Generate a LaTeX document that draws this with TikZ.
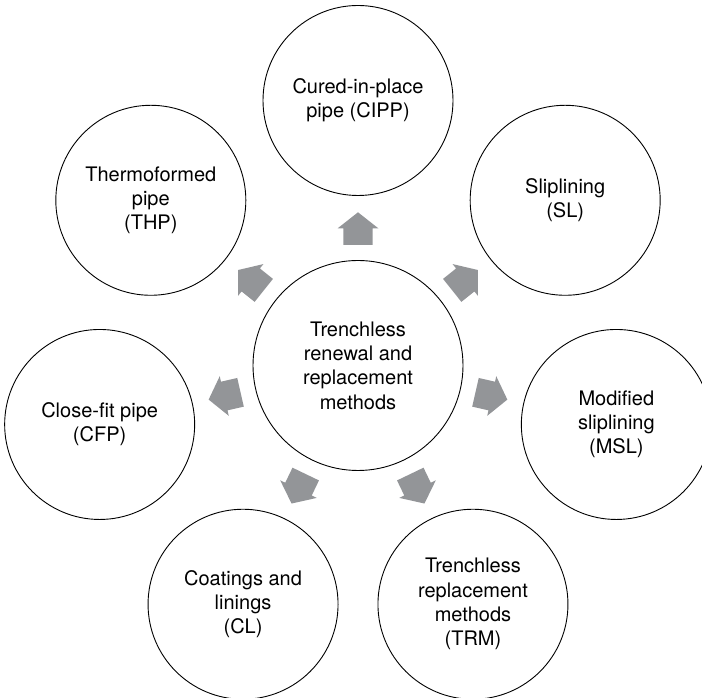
\documentclass[tikz,border=0pt]{standalone}
\usepackage{fontspec}
\setmainfont{TeX Gyre Heros}
\usetikzlibrary{calc}
\definecolor{arrowgray}{RGB}{147,149,152}
\tikzset{
  x=1pt, y=1pt,
  bubble/.style={circle, draw=black, line width=0.9pt, minimum size=190pt, inner sep=0pt,
    align=center, font=\fontsize{20}{24.3}\selectfont},
  hub/.style={bubble, minimum size=210pt},
  blockarrow/.style={fill=arrowgray, draw=none}
}
\begin{document}
\begin{tikzpicture}
\useasboundingbox (0,0) rectangle (702,698);
\clip (0,0) rectangle (702,698);
\coordinate (C) at (358,332.5);
\node[hub] (hub) at (C) {Trenchless\\renewal and\\replacement\\methods};
\node[bubble] (cipp) at ($(C)+(90:265)$) {Cured-in-place\\pipe (CIPP)};
\node[bubble] (sl) at ($(C)+(38.57:265)$) {Sliplining\\(SL)};
\node[bubble] (msl) at ($(C)+(-12.86:265)$) {Modified\\sliplining\\(MSL)};
\node[bubble] (trm) at ($(C)+(-64.29:265)$) {Trenchless\\replacement\\methods\\(TRM)};
\node[bubble] (cl) at ($(C)+(-115.71:265)$) {Coatings and\\linings\\(CL)};
\node[bubble] (cfp) at ($(C)+(-167.14:265)$) {Close-fit pipe\\(CFP)};
\node[bubble] (thp) at ($(C)+(141.43:265)$) {Thermoformed\\pipe\\(THP)};
\foreach \a in {90,38.57,-12.86,-64.29,-115.71,-167.14,141.43}{
  \begin{scope}[shift={(C)}, rotate=\a]
    \fill[blockarrow] (120.5,14.7) -- (137.2,14.7) -- (137.2,20.3) -- (153.2,0)
      -- (137.2,-20.3) -- (137.2,-14.7) -- (120.5,-14.7) -- cycle;
  \end{scope}
}
\end{tikzpicture}
\end{document}
